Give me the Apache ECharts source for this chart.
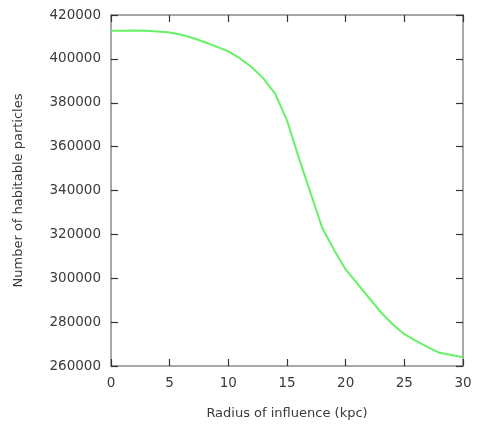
<!DOCTYPE html>
<html><head><meta charset="utf-8">
<script src="https://cdn.jsdelivr.net/npm/echarts@6/dist/echarts.min.js"></script>
<style>html,body{margin:0;padding:0;background:#fff}#c{width:477px;height:429px}</style>
</head><body><div id="c"></div>
<script>
const radius = [0,1,2,3,4,5,6,7,8,9,10,11,12,13,14,15,16,17,18,19,20,21,22,23,24,25,26,27,28,29,30];
const particles = [412800,412850,412900,412800,412500,412000,411000,409500,407600,405600,403400,400200,396200,391000,384000,372000,355000,339000,323000,313000,304000,297500,291000,284500,279000,274500,271500,268600,266000,265000,264000];
const yTicks = [260000,280000,300000,320000,340000,360000,380000,400000,420000];
const xTicks = [0,5,10,15,20,25,30];

const chart = echarts.init(document.getElementById('c'), null, {renderer:'canvas'});
const font = 'DejaVu Sans';
const mkLine = () => ({show:true, onZero:false, lineStyle:{color:'#8a8a8a', width:1.5}});
const mkTick = () => ({show:true, inside:true, length:7, interval:0, lineStyle:{color:'#333', width:1.2}});
chart.setOption({
  animation:false,
  grid:{left:111, right:14, top:15, bottom:63, show:false},
  xAxis:[{
    type:'value', min:xTicks[0], max:xTicks[xTicks.length-1], interval:5, position:'bottom',
    name:'Radius of influence (kpc)', nameLocation:'middle', nameGap:41,
    nameTextStyle:{fontFamily:font, fontSize:13, color:'#3a3a3a'},
    axisLine:mkLine(), axisTick:mkTick(), splitLine:{show:false},
    axisLabel:{fontFamily:font, fontSize:13.5, color:'#3a3a3a', margin:10}
  },{
    type:'value', min:xTicks[0], max:xTicks[xTicks.length-1], interval:5, position:'top',
    axisLine:mkLine(), axisTick:mkTick(), splitLine:{show:false}, axisLabel:{show:false}
  }],
  yAxis:[{
    type:'value', min:yTicks[0], max:yTicks[yTicks.length-1], interval:20000, position:'left',
    name:'Number of habitable particles', nameLocation:'middle', nameGap:86,
    nameTextStyle:{fontFamily:font, fontSize:13, color:'#3a3a3a'},
    axisLine:mkLine(), axisTick:mkTick(), splitLine:{show:false},
    axisLabel:{fontFamily:font, fontSize:13.5, color:'#3a3a3a', margin:10, formatter:v=>String(v)}
  },{
    type:'value', min:yTicks[0], max:yTicks[yTicks.length-1], interval:20000, position:'right',
    axisLine:mkLine(), axisTick:mkTick(), splitLine:{show:false}, axisLabel:{show:false}
  }],
  series:[{
    type:'line', data:radius.map((r,i)=>[r, particles[i]]),
    showSymbol:false, lineStyle:{color:'#66f266', width:2}, clip:true
  }]
});
</script></body></html>
